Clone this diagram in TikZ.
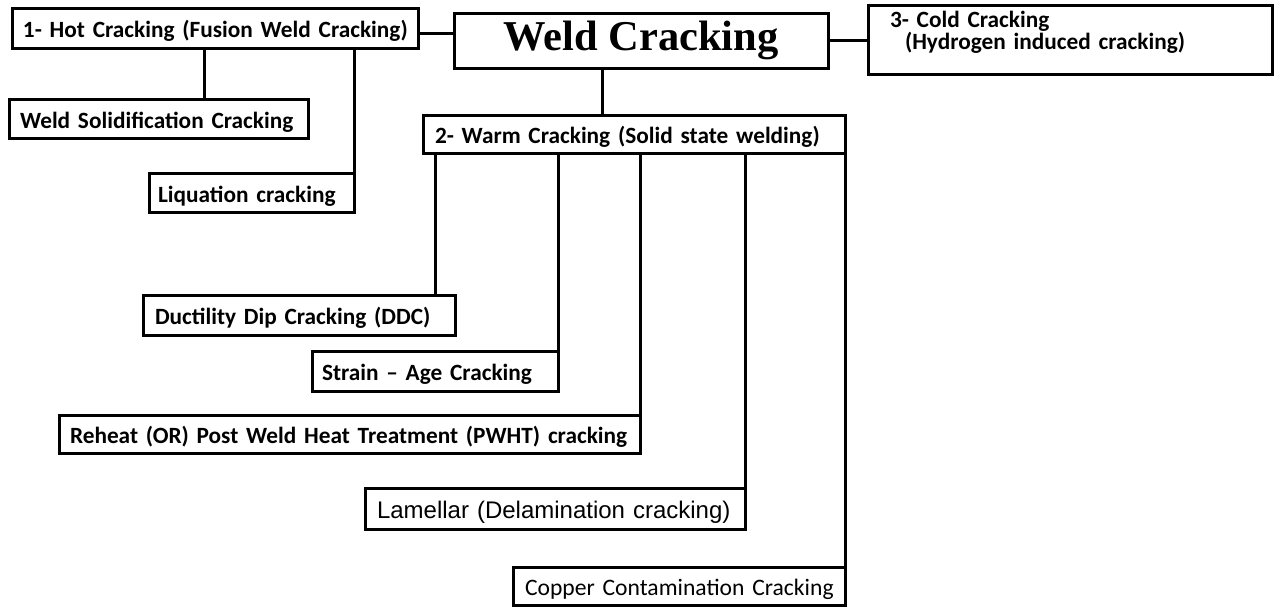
\documentclass[tikz,border=0pt]{standalone}
\usepackage{fontspec}
\setmainfont{Carlito}
\newfontfamily\titlefont{Liberation Serif}
\newfontfamily\arialfont{Liberation Sans}
\begin{document}
\begin{tikzpicture}[x=1pt,y=-1pt,inner sep=0pt,outer sep=0pt,line width=3pt,
catbox/.style={draw,rectangle,anchor=north west,align=left,inner ysep=0pt,line width=3pt,
  font=\fontsize{23.3}{22}\selectfont\bfseries},
crackbox/.style={catbox,text height=20pt,text depth=1pt}]
\useasboundingbox[fill=white] (0,0) rectangle (1277,606);
% main heading and the three families
\draw (454,13) node[draw,anchor=north west,minimum width=374pt,minimum height=55pt,
  font=\titlefont\bfseries\fontsize{42.5}{48}\selectfont] (weld) {Weld Cracking};
\draw (12,8) node[crackbox,text width=384pt,inner xsep=11pt,minimum height=40pt] (hot) {\mbox{1- Hot Cracking (Fusion Weld Cracking)}};
\draw (868,5) node[catbox,text width=360pt,inner xsep=22pt,minimum height=69pt] (cold) {3- Cold Cracking\\\hspace*{15pt}(Hydrogen induced cracking)\rule[-19pt]{0pt}{0pt}};
\draw (423,115) node[crackbox,text width=398pt,inner xsep=12pt,minimum height=38pt] (warm) {\mbox{2- Warm Cracking (Solid state welding)}};
% hot cracking types
\draw (9,99) node[crackbox,text width=277pt,inner xsep=11pt,minimum height=39pt] (weldsol) {\mbox{Weld Solidification Cracking}};
\draw (149,173) node[crackbox,text width=187pt,inner xsep=9pt,minimum height=39pt] (liq) {\mbox{Liquation cracking}};
% warm cracking types
\draw (143,295) node[crackbox,text width=288pt,inner xsep=12pt,minimum height=40pt] (ddc) {\mbox{Ductility Dip Cracking (DDC)}};
\draw (312,351) node[crackbox,text width=226pt,inner xsep=10pt,minimum height=40pt] (strain) {\mbox{Strain -- Age Cracking}};
\draw (59,415) node[crackbox,text width=559pt,inner xsep=11pt,minimum height=38pt] (pwht) {\mbox{Reheat (OR) Post Weld Heat Treatment (PWHT) cracking}};
\draw (365,488) node[crackbox,text width=356pt,inner xsep=12pt,minimum height=41pt,
  font=\arialfont\fontsize{24}{28}\selectfont] (lam) {\mbox{Lamellar (Delamination cracking)}};
\draw (513,567) node[crackbox,text width=308pt,inner xsep=12pt,minimum height=38pt,
  font=\fontsize{23.6}{26}\selectfont] (copper) {\mbox{Copper Contamination Cracking}};
% links
\path (hot.east) ++(0,5) coordinate (hw);
\draw (hw) -- (weld.west |- hw);
\draw (weld.east) -- (cold.west |- weld.east);
\draw (602,0 |- weld.south) -- (602,0 |- warm.north);
\draw (204,0 |- hot.south) -- (204,0 |- weldsol.north);
\draw (liq.north east) -- (liq.north east |- hot.south);
\draw (435,0 |- warm.south) -- (435,0 |- ddc.north);
\draw (strain.north east) -- (strain.north east |- warm.south);
\draw (pwht.north east) -- (pwht.north east |- warm.south);
\draw (lam.north east) -- (lam.north east |- warm.south);
\draw (copper.north east) -- (copper.north east |- warm.south);
\end{tikzpicture}
\end{document}
